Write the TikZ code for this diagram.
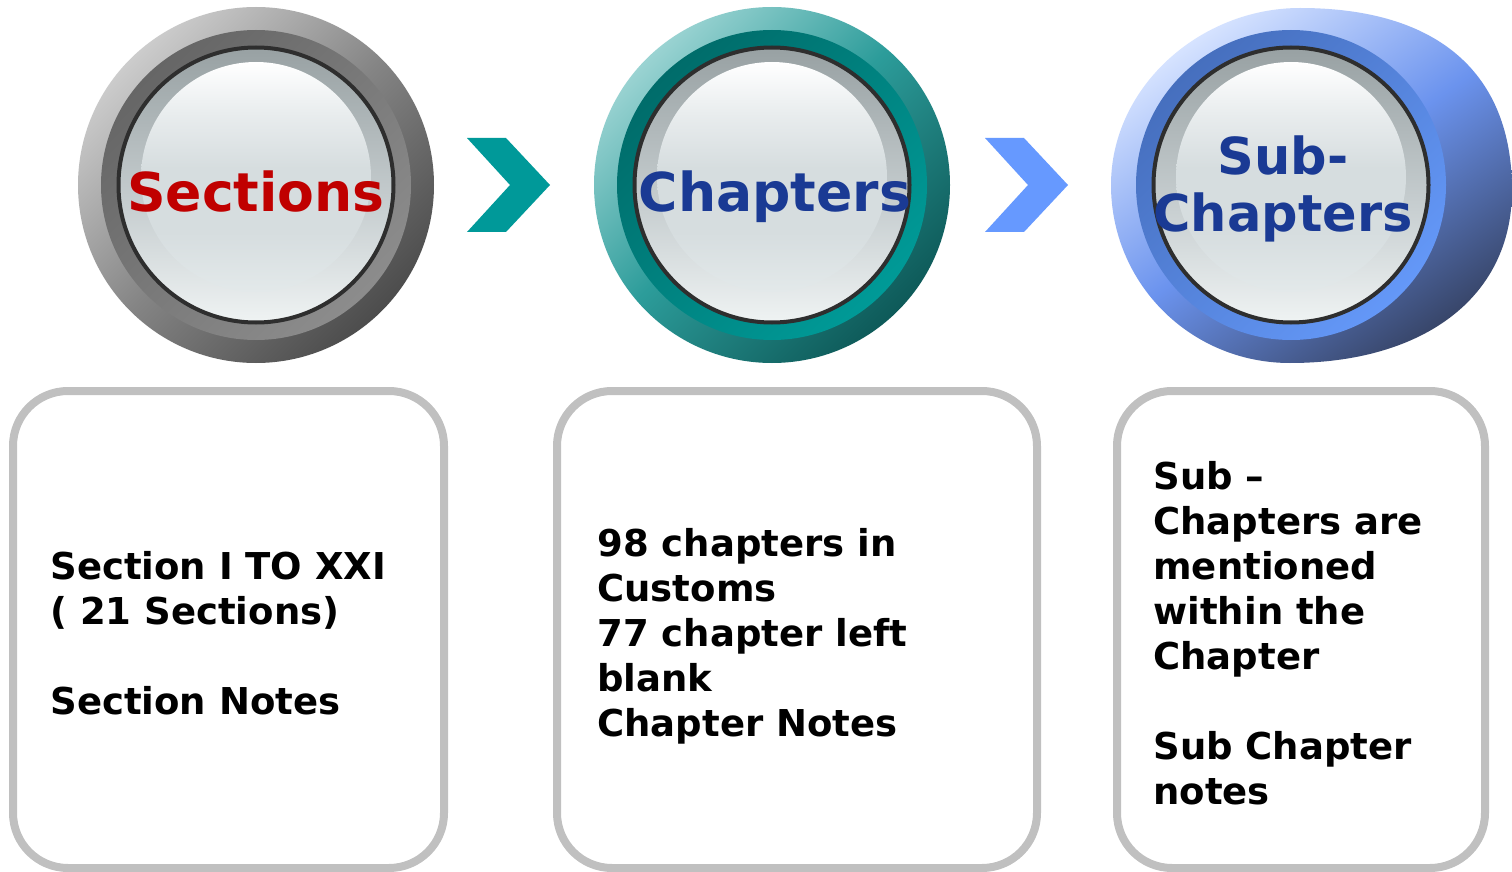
\documentclass[tikz,border=0pt]{standalone}
\usepackage{fontspec}
\setmainfont{DejaVu Sans}
\usetikzlibrary{calc}

% palette
\definecolor{secred}{HTML}{C00000}
\definecolor{chapblue}{HTML}{1A3A94}
\definecolor{boxgray}{HTML}{C0C0C0}
\definecolor{ringblack}{HTML}{2E2E2E}
\definecolor{chevteal}{HTML}{009999}
\definecolor{chevblue}{HTML}{6699FF}

% outer rims (light at top-left, dark at bottom-right once rotated)
\pgfdeclareverticalshading{rimgray}{100bp}{%
  color(0bp)=(black!70); color(25bp)=(black!70);
  color(50bp)=(black!48); color(75bp)=(black!20); color(100bp)=(black!20)}
\pgfdeclareverticalshading{bandgray}{100bp}{%
  color(0bp)=(black!45); color(25bp)=(black!45);
  color(75bp)=(black!60); color(100bp)=(black!60)}
\definecolor{tl1}{HTML}{9AD3D2}\definecolor{tl2}{HTML}{2C9C9A}\definecolor{tl3}{HTML}{0E5A59}
\pgfdeclareverticalshading{rimteal}{100bp}{%
  color(0bp)=(tl3); color(25bp)=(tl3);
  color(52bp)=(tl2); color(75bp)=(tl1); color(100bp)=(tl1)}
\definecolor{tb1}{HTML}{006C6A}\definecolor{tb2}{HTML}{009A97}
\pgfdeclareverticalshading{bandteal}{100bp}{%
  color(0bp)=(tb2); color(25bp)=(tb2);
  color(75bp)=(tb1); color(100bp)=(tb1)}
\definecolor{bl1}{HTML}{D6E3FF}\definecolor{bl2}{HTML}{6B93EE}\definecolor{bl3}{HTML}{38466A}
\pgfdeclareverticalshading{rimblue}{100bp}{%
  color(0bp)=(bl3); color(25bp)=(bl3);
  color(50bp)=(bl2); color(75bp)=(bl1); color(100bp)=(bl1)}
\definecolor{bb1}{HTML}{466FBE}\definecolor{bb2}{HTML}{6498F8}
\pgfdeclareverticalshading{bandblue}{100bp}{%
  color(0bp)=(bb2); color(25bp)=(bb2);
  color(75bp)=(bb1); color(100bp)=(bb1)}

% glass face
\definecolor{fr1}{HTML}{98A1A3}\definecolor{fr2}{HTML}{C9D0D2}\definecolor{fr3}{HTML}{EFF3F3}
\pgfdeclareverticalshading{facerim}{100bp}{%
  color(0bp)=(fr3); color(25bp)=(fr3); color(45bp)=(fr2);
  color(75bp)=(fr1); color(100bp)=(fr1)}
\definecolor{fg1}{HTML}{FFFFFF}\definecolor{fg2}{HTML}{E9EDEE}\definecolor{fg3}{HTML}{D6DDDF}\definecolor{fg4}{HTML}{E3E9EA}
\pgfdeclareverticalshading{faceglow}{100bp}{%
  color(0bp)=(fg4); color(25bp)=(fg4); color(38bp)=(fg3); color(52bp)=(fg3);
  color(64bp)=(fg2); color(75bp)=(fg1); color(100bp)=(fg1)}

\tikzset{
  ringline/.style={draw=ringblack, line width=2pt},
  notebox/.style={draw=boxgray, line width=4pt, rounded corners=27.5pt},
  notetext/.style={font=\bfseries\fontsize{18.5pt}{22.5pt}\selectfont,
    align=left, inner sep=0pt, anchor=north west},
  bigword/.style={font=\bfseries\fontsize{26.8pt}{28.5pt}\selectfont, inner sep=0pt},
}

% band, glass face and black ring of a button centred at (#1,#2)
\newcommand\glassface[3]{%
  \shade[shading=#3, shading angle=45] (#1,#2) circle[radius=155];
  \shade[shading=facerim] (#1,#2) circle[radius=137];
  \shade[shading=faceglow] (#1,#2-8) circle[radius=115];
  \draw[ringline] (#1,#2) circle[radius=137.5];
}

\begin{document}
\begin{tikzpicture}[x=0.5pt,y=-0.5pt]
\useasboundingbox (0,0) rectangle (1512,872);
\fill[white] (0,0) rectangle (1512,872);

% --- Sections button
\shade[shading=rimgray, shading angle=45] (256,185) circle[radius=178];
\glassface{256}{185}{bandgray}
\node[bigword, text=secred, anchor=base] (sections) at (256,212) {Sections};

% --- Chapters button
\shade[shading=rimteal, shading angle=45] (772,185) circle[radius=178];
\glassface{772}{185}{bandteal}
\node[bigword, text=chapblue, anchor=base] (chapters) at (775,212) {Chapters};

% --- Sub-Chapters button (rim swells out to the right)
\shade[shading=rimblue, shading angle=35]
  (1111,185) .. controls (1111,87) and (1200,8) .. (1300,8)
  .. controls (1440,8) and (1512,75) .. (1512,190)
  .. controls (1512,300) and (1420,363) .. (1290,363)
  .. controls (1190,363) and (1111,283) .. (1111,185) -- cycle;
\glassface{1291}{185}{bandblue}
\node[font=\bfseries\fontsize{25.5pt}{28.5pt}\selectfont, inner sep=0pt,
  text=chapblue, align=center, anchor=base] (subchapters) at (1283,232)
  {Sub-\\Chapters};

% --- chevrons between the buttons
\fill[chevteal] (467,138) -- (506,138) -- (550,185) -- (506,232)
  -- (467,232) -- (510,185) -- cycle;
\fill[chevblue] (985,138) -- (1024,138) -- (1068,185) -- (1024,232)
  -- (985,232) -- (1028,185) -- cycle;

% --- note boxes
\draw[notebox] (13,391) rectangle (444,868);
\draw[notebox] (557,391) rectangle (1037,868);
\draw[notebox] (1117,391) rectangle (1485,868);

\node[notetext] (secnotes) at (50,551)
  {Section I TO XXI\\( 21 Sections)\\[22.5pt]Section Notes};
\node[notetext] (chapnotes) at (597,528)
  {98 chapters in\\Customs\\77 chapter left\\blank\\Chapter Notes};
\node[notetext] (subnotes) at (1153,461)
  {Sub –\\Chapters are\\mentioned\\within the\\Chapter\\[22.5pt]Sub Chapter\\notes};
\end{tikzpicture}
\end{document}
